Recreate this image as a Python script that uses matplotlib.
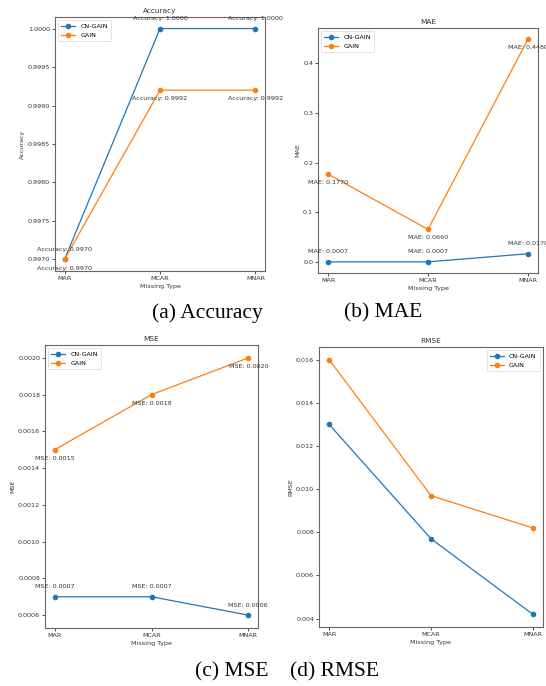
import matplotlib
matplotlib.use("Agg")
import matplotlib.pyplot as plt

missing_types = ["MAR", "MCAR", "MNAR"]

acc_cn = [0.9970, 1.0000, 1.0000]
acc_gain = [0.9970, 0.9992, 0.9992]

mae_cn = [0.0007, 0.0007, 0.0170]
mae_gain = [0.1770, 0.0660, 0.4480]

mse_cn = [0.0007, 0.0007, 0.0006]
mse_gain = [0.0015, 0.0018, 0.0020]

rmse_cn = [0.0130, 0.0077, 0.0042]
rmse_gain = [0.0160, 0.0097, 0.0082]

W, H = 546, 686
FS = 4.6


def box(left, top, right, bottom):
    return [left / W, 1 - bottom / H, (right - left) / W, (bottom - top) / H]


def panel(fig, rect, title, cn, gain, label=None, legend_loc="upper left"):
    ax = fig.add_axes(rect)
    ax.plot(missing_types, cn, marker="o", markersize=3, linewidth=0.9, label="CN-GAIN")
    ax.plot(missing_types, gain, marker="o", markersize=3, linewidth=0.9, label="GAIN")
    if label is not None:
        for i, v in enumerate(cn):
            ax.annotate(f"{label}: {v:.4f}", (i, v), textcoords="offset points",
                        xytext=(0, 7.2), ha="center", va="center", fontsize=FS,
                        color="#333333", annotation_clip=False)
        for i, v in enumerate(gain):
            ax.annotate(f"{label}: {v:.4f}", (i, v), textcoords="offset points",
                        xytext=(0, -6.2), ha="center", va="center", fontsize=FS,
                        color="#333333", annotation_clip=False)
    ax.set_title(title, fontsize=5.3, pad=3, color="#333333")
    ax.set_xlabel("Missing Type", fontsize=FS, labelpad=2, color="#333333")
    ax.set_ylabel(title, fontsize=FS, labelpad=2, color="#333333")
    ax.tick_params(labelsize=FS, length=2, width=0.6, pad=1.5, colors="#333333")
    for s in ax.spines.values():
        s.set_linewidth(0.8)
        s.set_color("#666666")
    leg = ax.legend(loc=legend_loc, fontsize=FS, handlelength=2.2, borderpad=0.5,
                    labelspacing=0.6, markerscale=1.0)
    leg.get_frame().set_linewidth(0.5)
    return ax


def main():
    fig = plt.figure(figsize=(W / 100, H / 100), dpi=100)

    panel(fig, box(55, 17, 265, 271), "Accuracy", acc_cn, acc_gain, label="Accuracy")
    panel(fig, box(318, 28, 538, 273), "MAE", mae_cn, mae_gain, label="MAE")
    panel(fig, box(45, 345, 258, 628), "MSE", mse_cn, mse_gain, label="MSE")
    panel(fig, box(319, 347, 543, 627), "RMSE", rmse_cn, rmse_gain, legend_loc="upper right")

    cap = dict(fontsize=15.5, family=["Liberation Serif", "DejaVu Serif"],
               ha="center", va="center")
    fig.text(207 / W, 1 - 313 / H, "(a) Accuracy", **cap)
    fig.text(383 / W, 1 - 313 / H, "(b) MAE", **cap)
    fig.text(287 / W, 1 - 672 / H, "(c) MSE    (d) RMSE", **cap)

    fig.savefig("out.png", dpi=100)


if __name__ == "__main__":
    main()
